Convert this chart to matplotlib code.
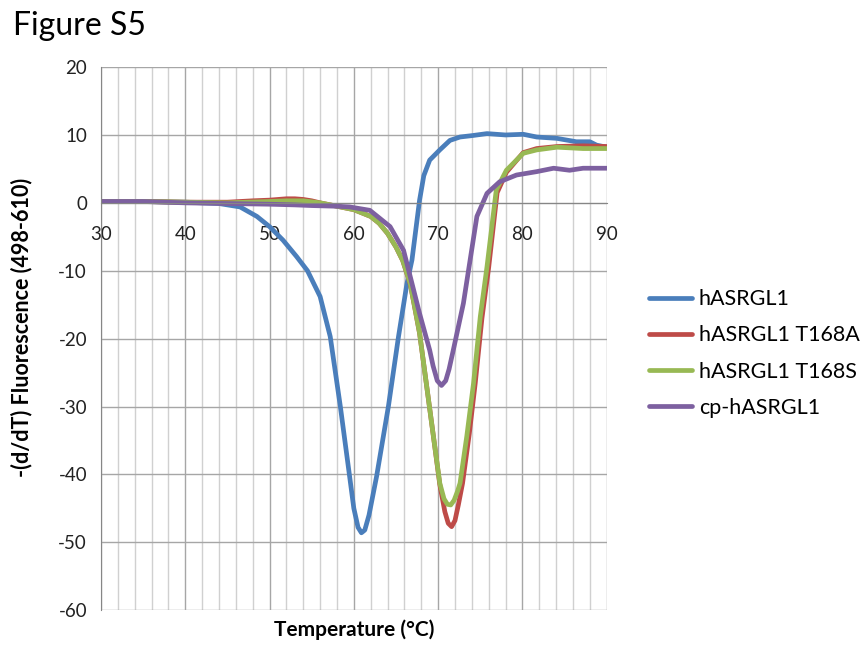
import matplotlib.pyplot as plt
from matplotlib.ticker import MultipleLocator

plt.rcParams['font.family'] = ['Lato', 'DejaVu Sans']
plt.rcParams['axes.unicode_minus'] = False

# hASRGL1
blue_x = [30, 35, 40, 44, 46.5, 48.5, 50, 51.6, 53.2, 54.5, 56, 57.2, 58.4, 59.5, 60.0, 60.5, 60.9,
          61.3, 61.8, 62.7, 64.1, 65.3, 66.3, 66.9, 67.4, 67.8, 68.3, 69, 70.2, 71.4, 72.6, 74, 75.8,
          78, 80.1, 81.7, 84.1, 86.4, 88, 88.8, 90]
blue_y = [0.2, 0.2, 0.1, -0.1, -0.6, -2, -3.5, -5.5, -7.9, -10, -13.8, -19.7, -30, -40.3, -45, -47.8, -48.6,
          -48.2, -46, -40.3, -30, -19.7, -11.9, -8.4, -3.5, 0.4, 4, 6.3, 7.8, 9.2, 9.7, 9.9, 10.2,
          10, 10.1, 9.7, 9.5, 9.0, 9.0, 8.5, 8.2]

# hASRGL1 T168A
red_x = [30, 35, 40, 45, 48, 50, 52, 53, 54, 55, 56, 58, 60, 62, 63, 64, 65, 65.8, 66.7, 67.8,
         68.6, 69.4, 70.2, 70.8, 71.2, 71.6, 72.0, 72.4, 72.9, 73.7, 74.4, 75.2, 76, 77, 78.1,
         80.1, 81.7, 84.1, 87.2, 90]
red_y = [0.2, 0.2, 0.1, 0.1, 0.3, 0.4, 0.6, 0.6, 0.5, 0.3, 0, -0.5, -1, -2, -3, -4.5, -6.5, -8.5, -12, -19.2,
         -26.6, -34, -41.5, -45.5, -47.2, -47.7, -46.8, -44.5, -41.3, -34, -26.6, -17, -9.5, 1.5, 4.5,
         7.4, 8, 8.3, 8.4, 8.3]

# hASRGL1 T168S
green_x = [30, 35, 40, 45, 50, 52, 54, 56, 58, 60, 62, 63, 64, 65, 65.8, 66.7, 67.8, 68.6, 69.4,
           70.2, 70.7, 71.1, 71.5, 71.9, 72.3, 72.6, 73.4, 74.2, 75, 75.8, 76.9, 78.1, 80.1, 81.7,
           84.1, 87.2, 90]
green_y = [0.2, 0.2, 0.1, 0, 0.2, 0.3, 0.3, 0, -0.5, -1, -2, -3, -4.5, -6.5, -8.5, -11.9, -19.2, -26.6, -34,
           -41.3, -43.6, -44.4, -44.5, -43.8, -42.5, -41.3, -34.4, -26.6, -16.8, -9.4, 1.9, 4.8, 7.3, 7.8,
           8.2, 8.0, 8.0]

# cp-hASRGL1
purple_x = [30, 35, 40, 45, 50, 53, 55, 58, 59.5, 61.9, 64.3, 65.9, 66.7, 67.8, 69, 69.4, 69.9, 70.4,
            70.9, 71.3, 71.8, 73, 73.8, 74.6, 75.8, 77.3, 79.3, 81.7, 83.7, 85.6, 87.2, 90]
purple_y = [0.2, 0.2, 0, -0.1, -0.2, -0.3, -0.4, -0.5, -0.6, -1.1, -3.5, -7, -10.9, -16.3, -21.7, -24, -26.2, -26.9,
            -26.2, -24.5, -21.7, -14.8, -8.4, -2, 1.4, 3.1, 4.1, 4.6, 5.1, 4.8, 5.1, 5.1]

series = [
    ("hASRGL1", blue_x, blue_y, "#4A7EBB"),
    ("hASRGL1 T168A", red_x, red_y, "#BE4B48"),
    ("hASRGL1 T168S", green_x, green_y, "#98B954"),
    ("cp-hASRGL1", purple_x, purple_y, "#7D60A0"),
]

fig = plt.figure(figsize=(8.63, 6.45), dpi=100)
ax = fig.add_axes([0.117, 0.054, 0.586, 0.842])

for label, xs, ys, color in series:
    ax.plot(xs, ys, color=color, lw=3.4, label=label, solid_joinstyle="round",
            solid_capstyle="round")

ax.set_xlim(30, 90)
ax.set_ylim(-60, 20)
ax.xaxis.set_major_locator(MultipleLocator(10))
ax.xaxis.set_minor_locator(MultipleLocator(2))
ax.yaxis.set_major_locator(MultipleLocator(10))
ax.grid(which="major", axis="both", color="#a6a6a6", lw=1)
ax.grid(which="minor", axis="x", color="#d0d0d0", lw=1)
ax.set_axisbelow(True)

ax.spines["bottom"].set_position(("data", 0))
ax.spines["bottom"].set_color("#868686")
ax.spines["left"].set_color("#868686")
ax.spines["top"].set_visible(False)
ax.spines["right"].set_visible(False)
ax.tick_params(which="both", length=0, labelsize=13.5, colors="#222222")
ax.tick_params(axis="x", pad=17)
ax.tick_params(axis="y", pad=10)

ax.set_xlabel("Temperature (°C)", fontsize=15, fontweight="bold")
ax.set_ylabel("-(d/dT) Fluorescence (498-610)", fontsize=15.5, fontweight="bold")
ax.xaxis.set_label_coords(0.5, -0.017)
ax.yaxis.set_label_coords(-0.135, 0.52)

fig.text(0.015, 0.96, "Figure S5", fontsize=23, ha="left", va="center")

fig.legend(loc="center left", bbox_to_anchor=(0.73, 0.452), frameon=False, fontsize=15.5,
           handlelength=2.0, handletextpad=0.3, labelspacing=0.75)

fig.savefig("out.png", dpi=100)
